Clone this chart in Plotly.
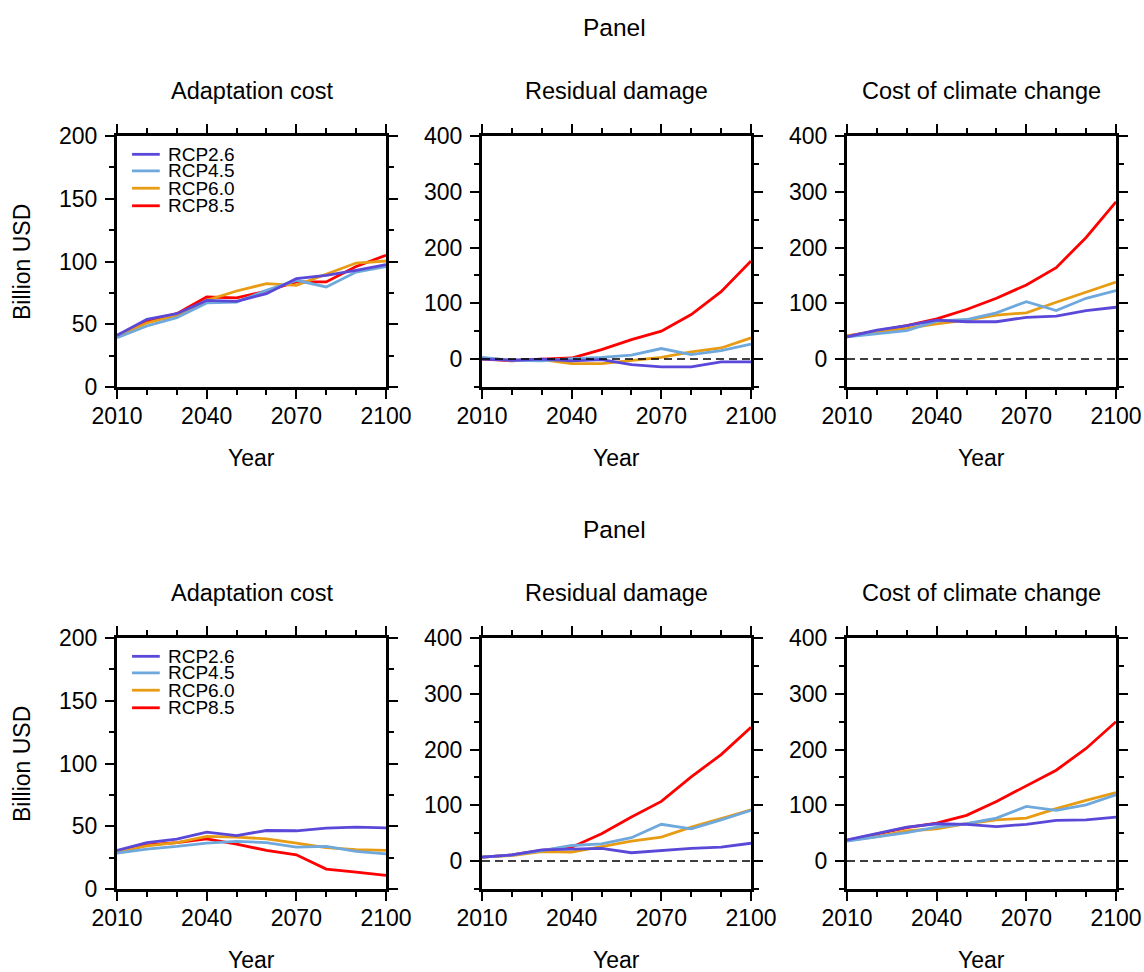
import plotly.graph_objects as go

# ---------------- data ----------------
years = [2010, 2020, 2030, 2040, 2050, 2060, 2070, 2080, 2090, 2100]
scenarios = ["RCP2.6", "RCP4.5", "RCP6.0", "RCP8.5"]
panel_titles = ["Adaptation cost", "Residual damage", "Cost of climate change"]
row_title = "Panel"
x_label = "Year"
y_label = "Billion USD"
x_ticks = [2010, 2040, 2070, 2100]

# top row
top_adapt_26 = [41.2, 53.9, 58.4, 69.0, 68.3, 74.4, 86.3, 89.0, 93.0, 97.5]
top_adapt_45 = [39.3, 48.6, 55.2, 67.0, 67.7, 77.0, 85.0, 79.7, 91.6, 96.0]
top_adapt_60 = [40.4, 51.0, 57.0, 69.0, 76.5, 82.3, 81.0, 89.8, 98.8, 100.4]
top_adapt_85 = [41.0, 52.6, 58.4, 71.7, 71.0, 76.5, 83.7, 83.7, 96.0, 105.0]

top_resid_26 = [0, -2, 0, -3, -1, -10, -14, -14, -5, -5]
top_resid_45 = [3, -2, -3, 1, 3, 7, 19, 8, 15, 27]
top_resid_60 = [2, -2, -1, -8, -8, -3, 3, 13, 20, 38]
top_resid_85 = [0, -3, 0, 2, 17, 35, 50, 80, 121, 176]

top_cost_26 = [40, 52, 60, 70, 67, 67, 75, 77, 87, 93]
top_cost_45 = [40, 46, 51, 68, 71, 83, 103, 87, 109, 123]
top_cost_60 = [42, 48, 55, 63, 70, 79, 83, 102, 120, 138]
top_cost_85 = [41, 51, 60, 72, 89, 109, 133, 164, 218, 282]

# bottom row
bot_adapt_26 = [30.7, 37.0, 39.7, 45.3, 42.6, 46.6, 46.4, 48.5, 49.3, 48.7]
bot_adapt_45 = [28.6, 31.8, 33.9, 36.6, 37.9, 37.0, 33.4, 33.9, 30.0, 28.0]
bot_adapt_60 = [29.4, 34.4, 37.0, 41.9, 41.3, 40.0, 36.6, 33.0, 31.3, 30.7]
bot_adapt_85 = [30.0, 35.2, 37.0, 40.0, 35.8, 30.7, 27.3, 15.9, 13.5, 10.9]

bot_resid_26 = [7, 11, 20, 22, 23, 15, 19, 23, 25, 32]
bot_resid_45 = [7, 11, 19, 28, 31, 42, 66, 58, 74, 91]
bot_resid_60 = [7, 10, 17, 16, 26, 36, 43, 61, 76, 92]
bot_resid_85 = [7, 11, 19, 25, 49, 79, 107, 151, 191, 240]

bot_cost_26 = [38, 50, 61, 67, 66, 62, 66, 73, 74, 79]
bot_cost_45 = [36, 43, 51, 61, 67, 77, 98, 91, 101, 119]
bot_cost_60 = [37, 44, 54, 58, 67, 74, 77, 94, 109, 123]
bot_cost_85 = [37, 49, 60, 68, 82, 107, 135, 163, 202, 250]

panels = [
    [top_adapt_26, top_adapt_45, top_adapt_60, top_adapt_85],
    [top_resid_26, top_resid_45, top_resid_60, top_resid_85],
    [top_cost_26, top_cost_45, top_cost_60, top_cost_85],
    [bot_adapt_26, bot_adapt_45, bot_adapt_60, bot_adapt_85],
    [bot_resid_26, bot_resid_45, bot_resid_60, bot_resid_85],
    [bot_cost_26, bot_cost_45, bot_cost_60, bot_cost_85],
]

# ---------------- style ----------------
colors = ["#5a48d8", "#6ea8dc", "#e89c14", "#ff0000"]
FONT = "Liberation Sans, Arial, Helvetica, sans-serif"
W, H = 1144, 972
col_px = [(117, 386), (482, 751), (847, 1116)]   # positions in window pixels
row_px = [(136, 387), (638, 889)]
row_offset = 502
TICK_SIZE = 23
TITLE_SIZE = 23.5
LABEL_SIZE = 23
PANEL_SIZE = 24.5
LEGEND_SIZE = 19


def px_x(px):
    return px / W


def px_y(py):
    return 1 - py / H


fig = go.Figure()

for p, series in enumerate(panels):
    r, c = divmod(p, 3)
    idx = p + 1
    xa = "x" if idx == 1 else f"x{idx}"
    ya = "y" if idx == 1 else f"y{idx}"
    # draw RCP8.5 first so RCP2.6 sits on top
    for s in reversed(range(4)):
        fig.add_trace(go.Scatter(
            x=years, y=series[s], mode="lines", name=scenarios[s],
            line=dict(color=colors[s], width=2.8),
            xaxis=xa, yaxis=ya, showlegend=False,
        ))
    x0, x1 = col_px[c]
    y0, y1 = row_px[r]
    common = dict(
        showline=True, linewidth=3, linecolor="black", mirror="allticks",
        ticks="outside", ticklen=9, tickwidth=1.5, tickcolor="black",
        showgrid=False, zeroline=False, automargin=False,
        tickfont=dict(family=FONT, size=TICK_SIZE, color="black"),
    )
    fig.layout[f"xaxis{'' if idx == 1 else idx}"] = dict(
        common,
        domain=[px_x(x0), px_x(x1)], anchor=ya,
        range=[2010, 2100], tickvals=x_ticks,
        minor=dict(dtick=10, tick0=2010, ticks="outside", ticklen=5,
                   tickwidth=1.5, tickcolor="black", showgrid=False),
        ticklabelstandoff=-3,
    )
    if c == 0:
        yr = dict(range=[0, 200], tick0=0, dtick=50,
                  minor=dict(dtick=25, ticks="outside", ticklen=5,
                             tickwidth=1.5, tickcolor="black", showgrid=False))
    else:
        yr = dict(range=[-50, 400], tick0=0, dtick=100,
                  minor=dict(dtick=50, ticks="outside", ticklen=5,
                             tickwidth=1.5, tickcolor="black", showgrid=False))
    fig.layout[f"yaxis{'' if idx == 1 else idx}"] = dict(
        common, **yr,
        domain=[px_y(y1), px_y(y0)], anchor=xa,
        ticklabelstandoff=3,
    )
    if c > 0:
        fig.add_shape(type="line", xref=f"{xa} domain", yref=ya,
                      x0=0, x1=1, y0=0, y1=0, layer="above",
                      line=dict(color="black", width=1.5, dash="8px,5px"))

annotations = []


def ann(text, x, y, size, angle=0, xanchor="center", xref="paper", yref="paper"):
    annotations.append(dict(
        text=text, x=x, y=y, xref=xref, yref=yref, showarrow=False,
        textangle=angle, xanchor=xanchor, yanchor="middle",
        font=dict(family=FONT, size=size, color="black"),
    ))


for r in range(2):
    off = r * row_offset
    ann(row_title, px_x(614), px_y(27 + off), PANEL_SIZE)
    ann(y_label, px_x(22), px_y(262 + off), LABEL_SIZE, angle=-90)
    for c in range(3):
        cx = (col_px[c][0] + col_px[c][1]) / 2
        ann(panel_titles[c], px_x(cx), px_y(91 + off), TITLE_SIZE)
        ann(x_label, px_x(cx), px_y(458 + off), LABEL_SIZE)

# in-panel legends (left panels)
legend_rows_y = [0.927, 0.861, 0.792, 0.722]
for idx in (1, 4):
    xa = "x" if idx == 1 else f"x{idx}"
    ya = "y" if idx == 1 else f"y{idx}"
    for s in range(4):
        fig.add_shape(type="line", xref=f"{xa} domain", yref=f"{ya} domain",
                      x0=0.056, x1=0.159, y0=legend_rows_y[s], y1=legend_rows_y[s],
                      line=dict(color=colors[s], width=2.8))
        ann(scenarios[s], 0.181, legend_rows_y[s], LEGEND_SIZE, xanchor="left",
            xref=f"{xa} domain", yref=f"{ya} domain")

fig.update_layout(
    width=W, height=H, margin=dict(l=0, r=0, t=0, b=0, autoexpand=False),
    paper_bgcolor="white", plot_bgcolor="white",
    showlegend=False, annotations=annotations,
    font=dict(family=FONT, size=LABEL_SIZE, color="black"),
)

fig.write_html(
    "out.html",
    config={"displayModeBar": False},
    post_script="document.body.style.margin='0';"
                "document.body.style.padding='0';"
                "document.documentElement.style.overflow='hidden';",
)
